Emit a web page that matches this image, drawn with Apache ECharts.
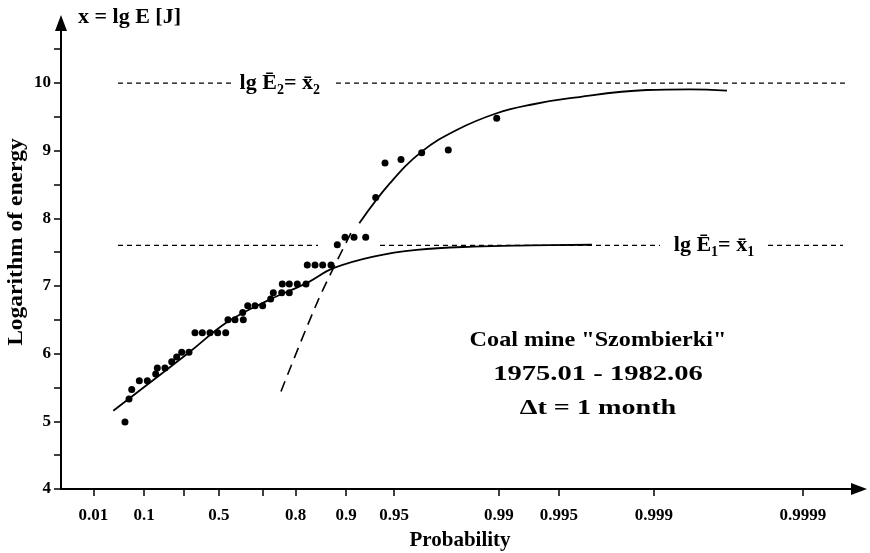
<!DOCTYPE html>
<html>
<head>
<meta charset="utf-8">
<title>Coal mine Szombierki – energy distribution</title>
<script src="https://cdn.jsdelivr.net/npm/echarts@6/dist/echarts.min.js"></script>
<style>
  html, body { margin: 0; padding: 0; background: #fff; }
  #chart { width: 870px; height: 553px; }
</style>
</head>
<body>
<div id="chart"></div>
<script>
// Probability axis: Gumbel reduced variate, ticks labelled with probabilities
const probLabels   = ['0.01', '0.1', '0.5', '0.8', '0.9', '0.95', '0.99', '0.995', '0.999', '0.9999'];
const labelVariate = [-1.511, -0.744, 0.390, 1.551, 2.312, 3.038, 4.626, 5.534, 6.971, 9.225];
const tickVariate  = [-1.511, -0.744, -0.150, 0.390, 1.045, 1.551, 2.312, 3.038, 4.626, 5.534, 6.971, 9.225];

// Energy axis ticks (lg E)
const energyLabels = [4, 5, 6, 7, 8, 9, 10];
const energyTicks  = [4, 4.5, 5, 5.5, 6, 6.5, 7, 7.5, 8, 8.5, 9, 9.5, 10, 10.5];

// Monthly maximum energies: plotting position (reduced variate) and lg E
const obsVariate = [-1.032, -0.971, -0.930, -0.815, -0.694, -0.567, -0.543, -0.427, -0.325, -0.250,
                    -0.174, -0.064, 0.027, 0.138, 0.254, 0.371, 0.492, 0.526, 0.632, 0.758,
                    0.749, 0.825, 0.935, 1.051, 1.172, 1.212, 1.339, 1.454, 1.348, 1.454,
                    1.575, 1.707, 1.726, 1.843, 1.959, 2.085, 2.180, 2.297, 2.433, 2.610,
                    2.761, 2.902, 3.144, 3.457, 3.859, 4.592];
const obsEnergy  = [4.99, 5.33, 5.47, 5.60, 5.60, 5.70, 5.79, 5.79, 5.88, 5.95,
                    6.02, 6.02, 6.31, 6.31, 6.31, 6.31, 6.31, 6.50, 6.50, 6.50,
                    6.61, 6.71, 6.71, 6.71, 6.81, 6.90, 6.90, 6.90, 7.03, 7.03,
                    7.03, 7.03, 7.31, 7.31, 7.31, 7.31, 7.61, 7.72, 7.72, 7.72,
                    8.31, 8.82, 8.87, 8.97, 9.01, 9.48];

// Fitted distribution of the lower population (asymptote lg E1)
const fit1Variate = [-1.209, -0.064, 0.522, 1.172, 1.717, 2.120, 2.725, 3.381, 4.238, 5.096, 6.033];
const fit1Energy  = [5.157, 6.018, 6.471, 6.806, 7.043, 7.264, 7.436, 7.535, 7.583, 7.600, 7.610];

// Fitted distribution of the upper population (asymptote lg E2)
const fit2Variate = [2.513, 2.977, 3.457, 3.986, 4.592, 5.145, 5.701, 6.861, 7.516, 8.076];
const fit2Energy  = [7.929, 8.520, 8.987, 9.307, 9.554, 9.687, 9.776, 9.898, 9.908, 9.888];

// Extrapolated lower tail of the upper population
const tail2Variate = [1.328, 1.893, 2.398];
const tail2Energy  = [5.442, 6.796, 7.805];

// Upper bounds
const meanEnergy1 = 7.6;
const meanEnergy2 = 10.0;

const zip = (xs, ys) => xs.map((x, i) => [x, ys[i]]);

const FONT = '"Liberation Serif", "DejaVu Serif", serif';
const ink = '#000';

// dashed level lines are broken where the labels and points sit
const level2Spans = [[-1.138, 0.587], [2.160, 9.891]];
const level1Spans = [[-1.138, 1.888], [2.826, 7.062], [8.696, 9.831]];

const levelSeries = [];
level2Spans.forEach(s => levelSeries.push({ y: meanEnergy2, s }));
level1Spans.forEach(s => levelSeries.push({ y: meanEnergy1, s }));

const richLabel = {
  m: { fontFamily: FONT, fontWeight: 'bold', fontSize: 22, color: ink, lineHeight: 24 },
  s: { fontFamily: FONT, fontWeight: 'bold', fontSize: 14, color: ink, lineHeight: 14, padding: [14, 0, 0, 0] }
};

const chart = echarts.init(document.getElementById('chart'), null, { renderer: 'canvas' });

// one line of the site annotation block
const noteLine = (text, y, sx) => ({
  type: 'text',
  x: 598,
  y: y,
  scaleX: sx,
  style: {
    text: text,
    fontFamily: FONT, fontWeight: 'bold', fontSize: 22,
    align: 'center',
    verticalAlign: 'middle',
    fill: ink
  }
});

chart.setOption({
  backgroundColor: '#fff',
  animation: false,
  grid: { left: 61, right: 11, top: 23, bottom: 64, containLabel: false, outerBoundsMode: 'none' },
  xAxis: {
    type: 'value',
    min: -2,
    max: 10.073,
    name: 'Probability',
    nameLocation: 'middle',
    nameGap: 41,
    nameTextStyle: { fontFamily: FONT, fontWeight: 'bold', fontSize: 21, color: ink },
    axisLine: {
      show: true, onZero: false,
      lineStyle: { color: ink, width: 2 },
      symbol: ['none', 'triangle'],
      symbolSize: [12, 16]
    },
    axisTick: {
      show: true, inside: false, length: 7,
      customValues: tickVariate,
      lineStyle: { color: ink, width: 1.5 }
    },
    axisLabel: {
      show: true,
      customValues: labelVariate,
      margin: 18,
      fontFamily: FONT, fontWeight: 'bold', fontSize: 17, color: ink,
      formatter: v => {
        const i = labelVariate.findIndex(t => Math.abs(t - v) < 1e-6);
        return i >= 0 ? probLabels[i] : '';
      }
    },
    splitLine: { show: false }
  },
  yAxis: {
    type: 'value',
    min: 4,
    max: 10.888,
    axisLine: {
      show: true, onZero: false,
      lineStyle: { color: ink, width: 2 },
      symbol: ['none', 'triangle'],
      symbolSize: [12, 16]
    },
    axisTick: {
      show: true, inside: false, length: 7,
      customValues: energyTicks,
      lineStyle: { color: ink, width: 1.5 }
    },
    axisLabel: {
      show: true,
      customValues: energyLabels,
      margin: 10,
      fontFamily: FONT, fontWeight: 'bold', fontSize: 17, color: ink
    },
    splitLine: { show: false }
  },
  series: [
    ...levelSeries.map(l => ({
      type: 'line',
      data: [[l.s[0], l.y], [l.s[1], l.y]],
      showSymbol: false,
      silent: true,
      lineStyle: { color: ink, width: 1.2, type: [5, 4] },
      z: 1
    })),
    {
      type: 'line',
      name: 'fit1',
      data: zip(fit1Variate, fit1Energy),
      smooth: 0.4,
      showSymbol: false,
      lineStyle: { color: ink, width: 1.8 },
      z: 2
    },
    {
      type: 'line',
      name: 'fit2',
      data: zip(fit2Variate, fit2Energy),
      smooth: 0.4,
      showSymbol: false,
      lineStyle: { color: ink, width: 1.8 },
      z: 2
    },
    {
      type: 'line',
      name: 'tail2',
      data: zip(tail2Variate, tail2Energy),
      smooth: 0.3,
      showSymbol: false,
      lineStyle: { color: ink, width: 1.6, type: [11, 7] },
      z: 2
    },
    {
      type: 'scatter',
      name: 'observed',
      data: zip(obsVariate, obsEnergy),
      symbol: 'circle',
      symbolSize: 7,
      itemStyle: { color: ink, opacity: 1 },
      z: 3
    },
    {
      type: 'scatter',
      name: 'level labels',
      symbolSize: 0,
      silent: true,
      itemStyle: { opacity: 1 },
      data: [
        { value: [1.310, meanEnergy2], label: { formatter: '{m|lg Ē}{s|2}{m|= x̄}{s|2}' } },
        { value: [7.879, meanEnergy1], label: { formatter: '{m|lg Ē}{s|1}{m|= x̄}{s|1}' } }
      ],
      label: { show: true, position: 'inside', color: ink, opacity: 1, rich: richLabel },
      z: 4
    }
  ],
  graphic: [
    {
      // title of the energy axis
      type: 'text',
      x: 78,
      y: 8,
      scaleX: 1.1,
      style: {
        text: 'x = lg E [J]',
        fontFamily: FONT, fontWeight: 'bold', fontSize: 20,
        fill: ink
      }
    },
    {
      type: 'text',
      x: 17,
      y: 242,
      rotation: Math.PI / 2,
      scaleX: 1.12,
      style: {
        text: 'Logarithm of energy',
        fontFamily: FONT, fontWeight: 'bold', fontSize: 21,
        align: 'center',
        verticalAlign: 'middle',
        fill: ink
      }
    },
    noteLine('Coal mine "Szombierki"', 340, 1.1),
    noteLine('1975.01 - 1982.06', 374, 1.3),
    noteLine('Δt = 1 month', 408, 1.28)
  ]
});
</script>
</body>
</html>
